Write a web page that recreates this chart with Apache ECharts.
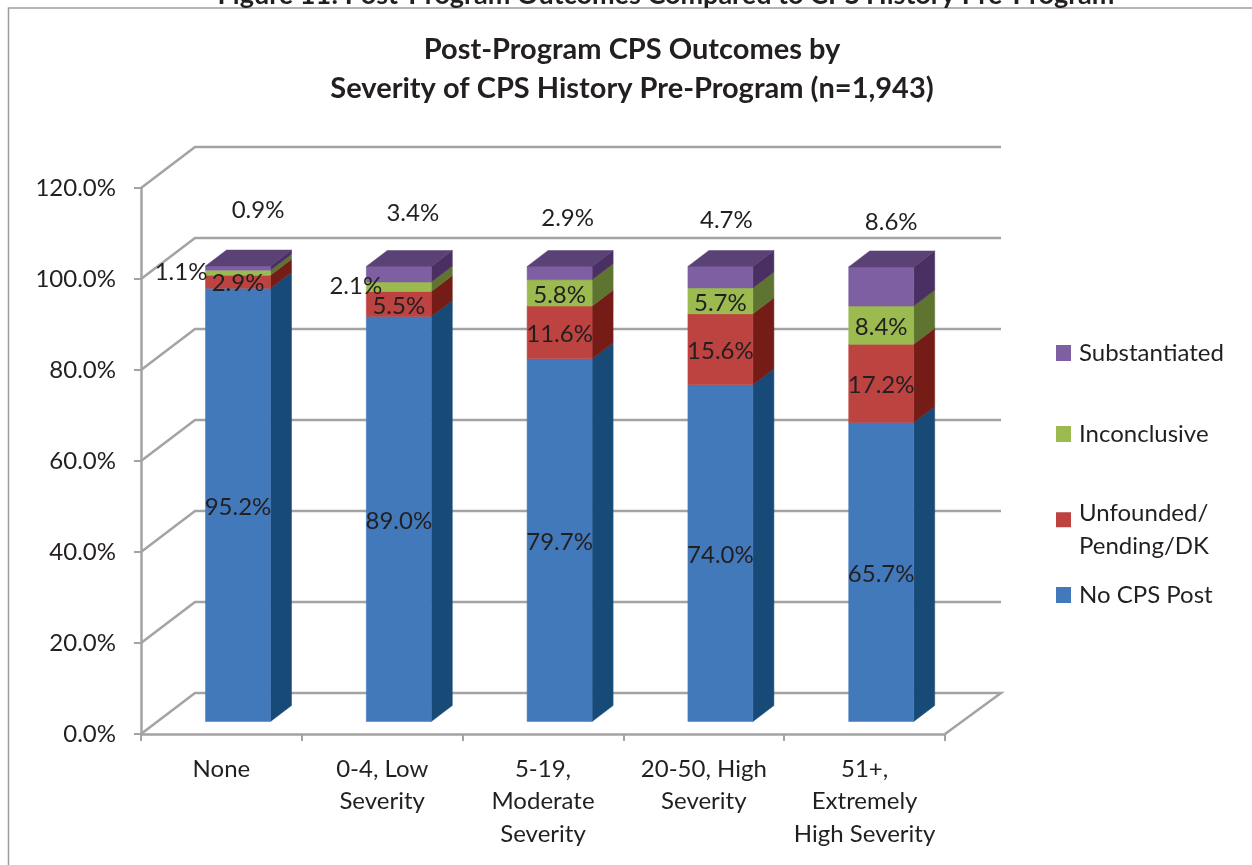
<!DOCTYPE html>
<html>
<head>
<meta charset="utf-8">
<title>Post-Program CPS Outcomes</title>
<style>
  html, body { margin: 0; padding: 0; background: #fff; overflow: hidden; }
  #chart { width: 1252px; height: 865px; }
</style>
<script src="https://cdn.jsdelivr.net/npm/echarts@6/dist/echarts.min.js"></script>
</head>
<body>
<div id="chart"></div>
<script>
var categories = ['None', '0-4, Low\nSeverity', '5-19,\nModerate\nSeverity', '20-50, High\nSeverity', '51+,\nExtremely\nHigh Severity'];
var yTicks = [0, 20, 40, 60, 80, 100, 120];

var noCpsPost = [95.2, 89.0, 79.7, 74.0, 65.7];
var unfounded = [2.9, 5.5, 11.6, 15.6, 17.2];
var inconclusive = [1.1, 2.1, 5.8, 5.7, 8.4];
var substantiated = [0.9, 3.4, 2.9, 4.7, 8.6];

// hand placed labels in the original: [dx, dy] from the middle of the segment
var inconclusiveShift = [[-57, 0], [-43, 0], [0, 2], [0, 2], [0, 2]];
var substantiatedShift = [[20, -58], [14, -61], [8, -55], [6, -57], [10, -64]];

var FONT = 'Lato, "Open Sans", sans-serif';
var TEXT = '#231f20';
var GRID_LINE = '#a3a3a3';

var WALL = [54, -41];
var BAR_SHIFT = [16.6, -12.5];
var BAR_DEPTH = [21, -16];
var BAR_WIDTH = 65;

var seriesInfo = [
    { name: 'No CPS Post', values: noCpsPost, front: '#4279bb', side: '#184a78', shift: null },
    { name: 'Unfounded/\nPending/DK', values: unfounded, front: '#bd4340', side: '#761c16', shift: null },
    { name: 'Inconclusive', values: inconclusive, front: '#9bbb50', side: '#5f7431', shift: inconclusiveShift },
    { name: 'Substantiated', values: substantiated, front: '#7e5fa2', side: '#4a2f63', top: '#5a4176', shift: substantiatedShift }
];

// stack start of each series, column by column
function stackStart(index) {
    return categories.map(function (c, col) {
        var sum = 0;
        for (var i = 0; i < index; i++) {
            sum += seriesInfo[i].values[col];
        }
        return sum;
    });
}

function renderWall(params, api) {
    var v = api.value(0);
    var rect = params.coordSys;
    var y = api.coord([0, v])[1];
    var left = rect.x;
    var right = rect.x + rect.width;
    var style = { stroke: GRID_LINE, lineWidth: 2.5, fill: null };
    var points = [[left, y], [left + WALL[0], y + WALL[1]], [right + WALL[0] + 2, y + WALL[1]]];
    if (v === 0) {
        points.push([right, y]);
    }
    return { type: 'polyline', shape: { points: points }, style: style, silent: true };
}

function renderSegment(info, isLast) {
    return function (params, api) {
        var center = api.coord([api.value(0), 0])[0] + BAR_SHIFT[0];
        var y0 = api.coord([0, api.value(1)])[1] + BAR_SHIFT[1];
        var y1 = api.coord([0, api.value(2)])[1] + BAR_SHIFT[1];
        var x0 = center - BAR_WIDTH / 2;
        var x1 = center + BAR_WIDTH / 2;
        var dx = BAR_DEPTH[0];
        var dy = BAR_DEPTH[1];
        var children = [
            {
                type: 'polygon',
                shape: { points: [[x1, y0], [x1 + dx, y0 + dy], [x1 + dx, y1 + dy], [x1, y1]] },
                style: { fill: info.side, stroke: info.side, lineWidth: 0.5 }
            },
            {
                type: 'polygon',
                shape: { points: [[x0, y0], [x1, y0], [x1, y1], [x0, y1]] },
                style: { fill: info.front, stroke: info.front, lineWidth: 0.5 }
            }
        ];
        if (isLast) {
            children.push({
                type: 'polygon',
                shape: { points: [[x0, y1], [x1, y1], [x1 + dx, y1 + dy], [x0 + dx, y1 + dy]] },
                style: { fill: info.top, stroke: info.top, lineWidth: 0.5 }
            });
        }
        return { type: 'group', children: children };
    };
}

function renderLabel(params, api) {
    var center = api.coord([api.value(0), 0])[0] + BAR_SHIFT[0];
    var mid = (api.value(1) + api.value(2)) / 2;
    var y = api.coord([0, mid])[1] + BAR_SHIFT[1];
    return {
        type: 'text',
        silent: true,
        style: {
            x: center + api.value(4),
            y: y + api.value(5),
            text: api.value(3).toFixed(1) + '%',
            align: 'center',
            verticalAlign: 'middle',
            fill: TEXT,
            font: '24px ' + FONT
        }
    };
}

var series = [{
    type: 'custom',
    z: 1,
    renderItem: renderWall,
    data: yTicks.map(function (t) { return [t]; }),
    silent: true
}];

var labelData = [];
seriesInfo.forEach(function (info, index) {
    var starts = stackStart(index);
    series.push({
        name: info.name,
        type: 'custom',
        z: 2 + index,
        itemStyle: { color: info.front },
        renderItem: renderSegment(info, index === seriesInfo.length - 1),
        data: info.values.map(function (v, col) {
            return [col, starts[col], starts[col] + v];
        }),
        silent: true
    });
    info.values.forEach(function (v, col) {
        var s = info.shift ? info.shift[col] : [0, 2];
        labelData.push([col, starts[col], starts[col] + v, v, s[0], s[1]]);
    });
});
series.push({ type: 'custom', z: 10, renderItem: renderLabel, data: labelData, silent: true });

// legend rows sit at fixed heights, the red marker lines up with the first text line
var legendTextStyle = { fontFamily: FONT, fontSize: 24, color: TEXT, lineHeight: 33, padding: [0, 0, 0, 3] };
function legendRow(info, top, icon, itemHeight) {
    return {
        left: 1051,
        top: top,
        orient: 'vertical',
        selectedMode: false,
        itemWidth: 15,
        itemHeight: itemHeight,
        itemGap: 8,
        itemSymbolKeepAspect: false,
        textStyle: legendTextStyle,
        data: [{ name: info.name, icon: icon }]
    };
}

var option = {
    animation: false,
    backgroundColor: '#ffffff',
    title: [
        {
            text: 'Figure 11: Post-Program Outcomes Compared to CPS History Pre-Program',
            left: 661,
            top: -23,
            textAlign: 'center',
            textStyle: { fontFamily: FONT, fontSize: 27, fontWeight: 'bold', color: TEXT }
        },
        {
            text: 'Post-Program CPS Outcomes by\nSeverity of CPS History Pre-Program (n=1,943)',
            left: 627,
            top: 25,
            textAlign: 'center',
            textStyle: { fontFamily: FONT, fontSize: 29, fontWeight: 'bold', color: TEXT, lineHeight: 39 }
        }
    ],
    legend: [
        legendRow(seriesInfo[3], 331.5, 'rect', 16),
        legendRow(seriesInfo[2], 412.5, 'rect', 16),
        legendRow(seriesInfo[1], 492, 'path://M0 0L16 0L16 16L0 16Z M0 38L0 38Z', 38),
        legendRow(seriesInfo[0], 573.5, 'rect', 16)
    ],
    grid: { left: 141, top: 188, width: 804, height: 546 },
    xAxis: {
        type: 'category',
        data: categories,
        axisLine: { lineStyle: { color: GRID_LINE, width: 2.5 } },
        axisTick: { show: true, length: 7, alignWithLabel: false, lineStyle: { color: GRID_LINE, width: 2 } },
        axisLabel: { interval: 0, margin: 19, fontFamily: FONT, fontSize: 24, color: TEXT, lineHeight: 32.5 }
    },
    yAxis: {
        type: 'value',
        min: 0,
        max: 120,
        interval: 20,
        splitLine: { show: false },
        axisLine: { show: true, lineStyle: { color: GRID_LINE, width: 2.5 } },
        axisTick: { show: true, length: 7, lineStyle: { color: GRID_LINE, width: 2 } },
        axisLabel: {
            margin: 25,
            padding: [6, 0, 0, 0],
            fontFamily: FONT,
            fontSize: 24,
            color: TEXT,
            formatter: function (v) { return v.toFixed(1) + '%'; }
        }
    },
    graphic: [{
        type: 'polyline',
        silent: true,
        shape: { points: [[8.5, 865], [8.5, 8], [1252, 8]] },
        style: { stroke: '#9d9d9d', lineWidth: 1.5, fill: null }
    }],
    series: series
};

var myChart = echarts.init(document.getElementById('chart'), null, { renderer: 'canvas' });
myChart.setOption(option);
</script>
</body>
</html>
